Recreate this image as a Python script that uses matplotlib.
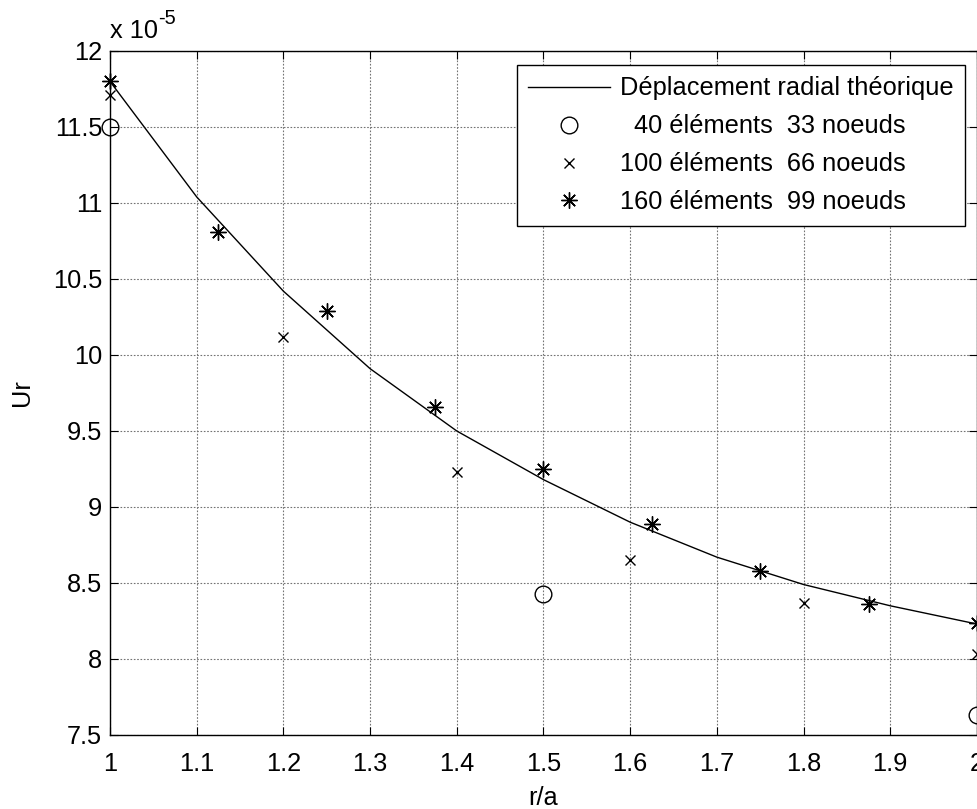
import matplotlib
matplotlib.use("Agg")
import matplotlib.pyplot as plt

plt.rcParams['font.family'] = ['Liberation Sans', 'DejaVu Sans']

# r/a positions and radial displacement (units of 1e-5)
r_theo = [1.0, 1.1, 1.2, 1.3, 1.4, 1.5, 1.6, 1.7, 1.8, 1.9, 2.0]
ur_theo = [11.80, 11.04, 10.42, 9.91, 9.50, 9.18, 8.90, 8.67, 8.49, 8.35, 8.23]

r_40 = [1.0, 1.5, 2.0]
ur_40 = [11.50, 8.43, 7.63]

r_100 = [1.0, 1.2, 1.4, 1.6, 1.8, 2.0]
ur_100 = [11.71, 10.12, 9.23, 8.65, 8.37, 8.03]

r_160 = [1.0, 1.125, 1.25, 1.375, 1.5, 1.625, 1.75, 1.875, 2.0]
ur_160 = [11.80, 10.81, 10.29, 9.66, 9.25, 8.89, 8.58, 8.36, 8.24]

labels = ['Déplacement radial théorique',
          '  40 éléments  33 noeuds',
          '100 éléments  66 noeuds',
          '160 éléments  99 noeuds']

xticks = [1, 1.1, 1.2, 1.3, 1.4, 1.5, 1.6, 1.7, 1.8, 1.9, 2]
xticklabels = ['1', '1.1', '1.2', '1.3', '1.4', '1.5', '1.6', '1.7', '1.8', '1.9', '2']
yticks = [7.5, 8, 8.5, 9, 9.5, 10, 10.5, 11, 11.5, 12]
yticklabels = ['7.5', '8', '8.5', '9', '9.5', '10', '10.5', '11', '11.5', '12']

W, H = 978, 809
fig = plt.figure(figsize=(W / 100, H / 100), dpi=100)
ax = fig.add_axes([110 / W, (H - 735) / H, 867 / W, (735 - 51) / H])

fs = 18.3
ax.plot(r_theo, ur_theo, color='black', lw=1.0, label=labels[0])
ax.plot(r_40, ur_40, ls='none', marker='o', ms=12, mfc='none', mec='black',
        mew=1.0, label=labels[1], clip_on=False)
ax.plot(r_100, ur_100, ls='none', marker='x', ms=7, mec='black', mew=1.0,
        label=labels[2], clip_on=False)
ax.plot(r_160, ur_160, ls='none', marker=(8, 2, 0), ms=11.5, mec='black', mew=1.0,
        label=labels[3], clip_on=False)

ax.set_xlim(1, 2)
ax.set_ylim(7.5, 12)
ax.set_xticks(xticks)
ax.set_xticklabels(xticklabels)
ax.set_yticks(yticks)
ax.set_yticklabels(yticklabels)
ax.tick_params(direction='in', length=6, width=0.8, top=True, right=True,
               labelsize=fs, colors='black')
ax.tick_params(axis='x', pad=12)
ax.tick_params(axis='y', pad=5.5)
for s in ax.spines.values():
    s.set_linewidth(1.0)
    s.set_color('black')

ax.grid(True, color='0.45', ls=(0, (1.5, 1.5)), lw=0.8)
ax.set_axisbelow(True)

ax.set_xlabel('r/a', fontsize=fs, labelpad=7.5)
ax.set_ylabel('Ur', fontsize=fs, labelpad=14)

# scale factor written above the y axis
ax.annotate('x 10', xy=(0, 1.0), xycoords='axes fraction',
            xytext=(0, 13.5), textcoords='offset pixels',
            fontsize=fs, ha='left', va='baseline')
ax.annotate('-5', xy=(0, 1.0), xycoords='axes fraction',
            xytext=(48, 27), textcoords='offset pixels',
            fontsize=14.5, ha='left', va='baseline')

leg = ax.legend(loc='upper right', bbox_to_anchor=(965 / W, (H - 65) / H),
                bbox_transform=fig.transFigure, borderaxespad=0,
                fontsize=fs, frameon=True, fancybox=False, framealpha=1,
                edgecolor='black', handlelength=3.2, handletextpad=0.4,
                labelspacing=0.55, borderpad=0.45)
leg.get_frame().set_linewidth(1.0)

fig.savefig('out.png', dpi=100)
